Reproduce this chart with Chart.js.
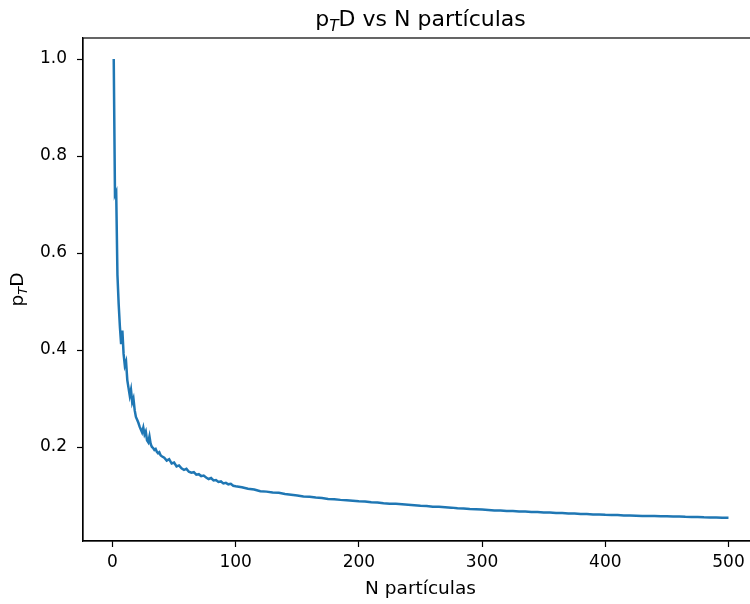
<!DOCTYPE html>
<html>
<head>
<meta charset="utf-8">
<script src="https://cdn.jsdelivr.net/npm/chart.js@4"></script>
<style>
  html, body { margin: 0; padding: 0; background: #fff; overflow: hidden; }
  #wrap { width: 760px; height: 604px; }
</style>
</head>
<body>
<div id="wrap"><canvas id="ptdChart" width="760" height="604"></canvas></div>
<script>
// N particles (x) and pTD
const nParticles = [
  1, 2, 3, 4, 5, 6, 7, 8, 9, 10,
  11, 12, 13, 14, 15, 16, 17, 18, 19, 20,
  21, 22, 23, 24, 25, 26, 27, 28, 29, 30,
  31, 32, 33, 34, 35, 36, 37, 38, 39, 40,
  42, 44, 46, 48, 50, 52, 54, 56, 58, 60,
  62, 64, 66, 68, 70, 72, 74, 76, 78, 80,
  82, 84, 86, 88, 90, 92, 94, 96, 98, 100,
  105, 110, 115, 120, 125, 130, 135, 140, 145, 150,
  155, 160, 165, 170, 175, 180, 185, 190, 195, 200,
  205, 210, 215, 220, 225, 230, 235, 240, 245, 250,
  255, 260, 265, 270, 275, 280, 285, 290, 295, 300,
  305, 310, 315, 320, 325, 330, 335, 340, 345, 350,
  355, 360, 365, 370, 375, 380, 385, 390, 395, 400,
  405, 410, 415, 420, 425, 430, 435, 440, 445, 450,
  455, 460, 465, 470, 475, 480, 485, 490, 495, 500
];
const ptdValues = [
  1.000, 0.720, 0.726, 0.555, 0.495, 0.448, 0.412, 0.440, 0.392, 0.368,
  0.376, 0.338, 0.322, 0.306, 0.318, 0.292, 0.300, 0.276, 0.262, 0.256,
  0.250, 0.242, 0.236, 0.230, 0.240, 0.226, 0.232, 0.214, 0.210, 0.222,
  0.206, 0.200, 0.198, 0.194, 0.196, 0.190, 0.187, 0.189, 0.183, 0.181,
  0.178, 0.172, 0.175, 0.166, 0.168, 0.160, 0.162, 0.156, 0.153, 0.155,
  0.149, 0.147, 0.148, 0.143, 0.144, 0.140, 0.141, 0.137, 0.134, 0.136,
  0.131, 0.132, 0.128, 0.129, 0.125, 0.126, 0.123, 0.124, 0.120, 0.119,
  0.117, 0.114, 0.1125, 0.109, 0.108, 0.106, 0.1055, 0.103, 0.1015, 0.100,
  0.098, 0.0975, 0.096, 0.095, 0.093, 0.0925, 0.091, 0.090, 0.089, 0.088,
  0.0875, 0.086, 0.0855, 0.084, 0.083, 0.0828, 0.082, 0.081, 0.080, 0.079,
  0.0785, 0.077, 0.0768, 0.076, 0.075, 0.0735, 0.073, 0.072, 0.0715, 0.071,
  0.0703, 0.069, 0.0692, 0.068, 0.0678, 0.067, 0.0668, 0.066, 0.0658, 0.065,
  0.0648, 0.064, 0.0638, 0.063, 0.0628, 0.062, 0.0618, 0.061, 0.0608, 0.0602,
  0.060, 0.0596, 0.059, 0.0588, 0.0585, 0.058, 0.0578, 0.0575, 0.0572, 0.057,
  0.0568, 0.0565, 0.056, 0.0558, 0.0555, 0.055, 0.0549, 0.0546, 0.0542, 0.054
];
const xTicks = [0, 100, 200, 300, 400, 500];
const yTicks = [0.2, 0.4, 0.6, 0.8, 1.0];

const FONT = '"DejaVu Sans", sans-serif';

// text with a subscript, like matplotlib mathtext p$_T$D
function drawRich(ctx, parts, size) {
  const fonts = parts.map(p => p.sub ? `italic ${size * 0.7}px ${FONT}` : `${size}px ${FONT}`);
  const widths = parts.map((p, i) => { ctx.font = fonts[i]; return ctx.measureText(p.text).width; });
  const total = widths.reduce((a, b) => a + b, 0);
  let x = -total / 2;
  parts.forEach((p, i) => {
    ctx.font = fonts[i];
    ctx.fillText(p.text, x, p.sub ? size * 0.22 : 0);
    x += widths[i];
  });
}

const framePlugin = {
  id: 'frame',
  afterDraw(chart) {
    const { ctx, chartArea: a } = chart;
    ctx.save();
    ctx.strokeStyle = '#000';
    ctx.lineWidth = 1.2;
    ctx.strokeRect(a.left, a.top, a.right - a.left, a.bottom - a.top);

    ctx.fillStyle = '#000';
    ctx.textAlign = 'left';
    ctx.textBaseline = 'alphabetic';
    // title
    ctx.save();
    ctx.translate((a.left + a.right) / 2, 26);
    drawRich(ctx, [{ text: 'p' }, { text: 'T', sub: true }, { text: 'D vs N partículas' }], 22);
    ctx.restore();
    // y label
    ctx.save();
    ctx.translate(23, (a.top + a.bottom) / 2);
    ctx.rotate(-Math.PI / 2);
    drawRich(ctx, [{ text: 'p' }, { text: 'T', sub: true }, { text: 'D' }], 18.5);
    ctx.restore();
    ctx.restore();
  }
};

new Chart(document.getElementById('ptdChart'), {
  type: 'line',
  data: {
    datasets: [{
      label: 'pTD',
      data: nParticles.map((n, i) => ({ x: n, y: ptdValues[i] })),
      borderColor: '#1f77b4',
      borderWidth: 2.5,
      pointRadius: 0,
      tension: 0,
      fill: false
    }]
  },
  options: {
    responsive: false,
    animation: false,
    layout: { padding: { top: 38, right: 2, left: 0, bottom: 0 } },
    plugins: {
      legend: { display: false },
      title: { display: false },
      tooltip: { enabled: false }
    },
    scales: {
      x: {
        type: 'linear',
        min: -23.95,
        max: 523.95,
        afterFit(scale) { scale.height = 63; },
        afterBuildTicks(scale) { scale.ticks = xTicks.map(v => ({ value: v })); },
        grid: { drawOnChartArea: false, color: '#000', tickLength: 6, tickWidth: 1.2 },
        border: { display: true, color: '#000', width: 1.2 },
        ticks: { color: '#000', font: { family: FONT, size: 17 }, padding: 5, maxRotation: 0,
                 callback: v => String(v) },
        title: { display: true, text: 'N partículas', color: '#000',
                 font: { family: FONT, size: 18.5 }, padding: { top: 0, bottom: 4 } }
      },
      y: {
        type: 'linear',
        min: 0.0062,
        max: 1.0433,
        afterFit(scale) { scale.width = 83; },
        afterBuildTicks(scale) { scale.ticks = yTicks.map(v => ({ value: v })); },
        grid: { drawOnChartArea: false, color: '#000', tickLength: 6, tickWidth: 1.2 },
        border: { display: true, color: '#000', width: 1.2 },
        ticks: { color: '#000', font: { family: FONT, size: 17 }, padding: 10,
                 callback: v => v.toFixed(1) }
      }
    }
  },
  plugins: [framePlugin]
});
</script>
</body>
</html>
